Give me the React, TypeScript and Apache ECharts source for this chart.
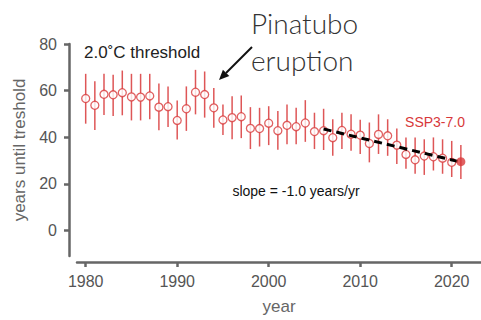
import React, { useEffect, useRef } from "react";
import * as echarts from "echarts";

const years = [
  1980, 1981, 1982, 1983, 1984, 1985, 1986, 1987, 1988, 1989,
  1990, 1991, 1992, 1993, 1994, 1995, 1996, 1997, 1998, 1999,
  2000, 2001, 2002, 2003, 2004, 2005, 2006, 2007, 2008, 2009,
  2010, 2011, 2012, 2013, 2014, 2015, 2016, 2017, 2018, 2019,
  2020, 2021,
];
const centers = [
  56.6, 53.7, 58.4, 58.2, 59.1, 57.3, 57.2, 57.7, 52.9, 53.1,
  47.2, 52.2, 59.3, 58.3, 52.6, 47.4, 48.4, 48.8, 43.8, 43.7,
  46.0, 42.8, 45.1, 44.5, 46.1, 42.4, 42.8, 39.8, 42.9, 41.3,
  40.9, 37.3, 41.2, 40.6, 36.6, 32.6, 30.3, 31.9, 31.6, 31.0,
  29.2, 29.5,
];
const lows = [
  45.8, 43.1, 49.5, 49.1, 49.4, 47.2, 47.2, 47.7, 43.0, 44.4,
  39.0, 42.7, 49.8, 48.4, 44.1, 40.9, 39.1, 39.6, 34.9, 36.0,
  36.6, 34.6, 37.0, 37.0, 38.0, 34.9, 34.5, 32.0, 34.9, 34.2,
  32.8, 29.2, 32.8, 32.0, 28.5, 26.4, 24.3, 23.8, 25.7, 24.3,
  22.9, 22.1,
];
const highs = [
  67.2, 64.0, 67.2, 66.8, 68.6, 67.2, 67.2, 67.2, 63.0, 61.8,
  55.7, 61.8, 68.9, 68.2, 61.1, 54.0, 57.6, 57.9, 52.9, 52.6,
  53.3, 51.2, 54.0, 52.6, 55.9, 50.5, 52.2, 47.7, 50.5, 49.8,
  47.5, 46.3, 49.8, 47.7, 43.7, 39.9, 39.9, 39.1, 39.9, 39.1,
  38.4, 36.6,
];
const trendYears = [2006, 2021];
const trendValues = [43.5, 29.3];
const xTicks = [1980, 1990, 2000, 2010, 2020];
const yTicks = [0, 20, 40, 60, 80];

const RED = "#d8383a";
const AXIS = "#666666";

export default function App() {
  const ref = useRef<HTMLDivElement>(null);
  useEffect(() => {
    if (!ref.current) return;
    const chart = echarts.init(ref.current, null, { renderer: "svg" });
    const n = years.length;
    const errData = years.map((y, i) => [y, lows[i], highs[i]]);
    const openPts = years.slice(0, n - 1).map((y, i) => [y, centers[i]]);
    const lastPt = [[years[n - 1], centers[n - 1]]];
    const trend = trendYears.map((y, i) => [y, trendValues[i]]);
    const font = "'Liberation Sans', Arial, Helvetica, sans-serif";

    chart.setOption({
      animation: false,
      backgroundColor: "#ffffff",
      grid: { left: 77, right: 0, top: 44, bottom: 62 },
      xAxis: {
        type: "value",
        min: 1979.05,
        max: 2023.2,
        offset: 6,
        name: "year",
        nameLocation: "middle",
        nameGap: 36,
        nameTextStyle: { fontSize: 17, color: AXIS, fontFamily: font },
        axisLine: { show: true, onZero: false, lineStyle: { color: AXIS, width: 2.5 } },
        axisTick: { show: true, customValues: xTicks, length: 5, lineStyle: { color: AXIS, width: 2.5 } },
        axisLabel: {
          customValues: xTicks,
          fontSize: 16,
          color: "#555",
          margin: 11,
          fontFamily: font,
          formatter: (v: number) => String(Math.round(v)),
        },
        splitLine: { show: false },
      },
      yAxis: {
        type: "value",
        min: -11,
        max: 80,
        offset: 8,
        name: "years until treshold",
        nameLocation: "middle",
        nameGap: 37,
        nameTextStyle: { fontSize: 17, color: AXIS, fontFamily: font },
        axisLine: { show: true, onZero: false, lineStyle: { color: AXIS, width: 2.5 } },
        axisTick: { show: true, customValues: yTicks, length: 5, lineStyle: { color: AXIS, width: 2.5 } },
        axisLabel: {
          customValues: yTicks,
          fontSize: 16,
          color: "#555",
          margin: 12,
          fontFamily: font,
          formatter: (v: number) => String(Math.round(v)),
        },
        splitLine: { show: false },
      },
      series: [
        {
          type: "custom",
          z: 1,
          data: errData,
          renderItem: (params: any, api: any) => {
            const x = api.value(0);
            const p1 = api.coord([x, api.value(1)]);
            const p2 = api.coord([x, api.value(2)]);
            return {
              type: "line",
              shape: { x1: p1[0], y1: p1[1], x2: p2[0], y2: p2[1] },
              style: { stroke: RED, lineWidth: 1.5, opacity: 0.85 },
            };
          },
        },
        {
          type: "scatter",
          z: 2,
          data: openPts,
          symbol: "circle",
          symbolSize: 8,
          itemStyle: { color: "#ffffff", borderColor: RED, borderWidth: 1.3 },
        },
        {
          type: "line",
          z: 3,
          data: trend,
          symbol: "none",
          lineStyle: { color: "#000", width: 3, type: [8, 5] },
        },
        {
          type: "scatter",
          z: 4,
          data: lastPt,
          symbol: "circle",
          symbolSize: 9,
          itemStyle: { color: RED },
        },
      ],
      graphic: [
        {
          type: "text",
          x: 84,
          y: 52,
          style: {
            text: "2.0˚C threshold",
            fill: "#222",
            font: `17px ${font}`,
            textAlign: "left",
            textVerticalAlign: "middle",
          },
        },
        {
          type: "text",
          x: 251,
          y: 23,
          style: {
            text: "Pinatubo",
            fill: "#333",
            font: "300 28px Lato, 'Open Sans', sans-serif",
            textAlign: "left",
            textVerticalAlign: "middle",
          },
        },
        {
          type: "text",
          x: 251,
          y: 60,
          style: {
            text: "eruption",
            fill: "#333",
            font: "300 28px Lato, 'Open Sans', sans-serif",
            textAlign: "left",
            textVerticalAlign: "middle",
          },
        },
        {
          type: "line",
          shape: { x1: 252, y1: 47, x2: 226, y2: 73 },
          style: { stroke: "#111", lineWidth: 2 },
        },
        {
          type: "polygon",
          shape: { points: [[219, 80], [229.3, 76.1], [222.9, 69.7]] },
          style: { fill: "#111" },
        },
        {
          type: "text",
          x: 465,
          y: 122,
          style: {
            text: "SSP3-7.0",
            fill: RED,
            font: `14px ${font}`,
            textAlign: "right",
            textVerticalAlign: "middle",
          },
        },
        {
          type: "text",
          x: 296,
          y: 191,
          style: {
            text: "slope = -1.0 years/yr",
            fill: "#111",
            font: `14px ${font}`,
            textAlign: "center",
            textVerticalAlign: "middle",
          },
        },
      ],
    });
    return () => chart.dispose();
  }, []);
  return (
    <div
      ref={ref}
      style={{ position: "absolute", left: 0, top: 0, width: 481, height: 320 }}
    />
  );
}
